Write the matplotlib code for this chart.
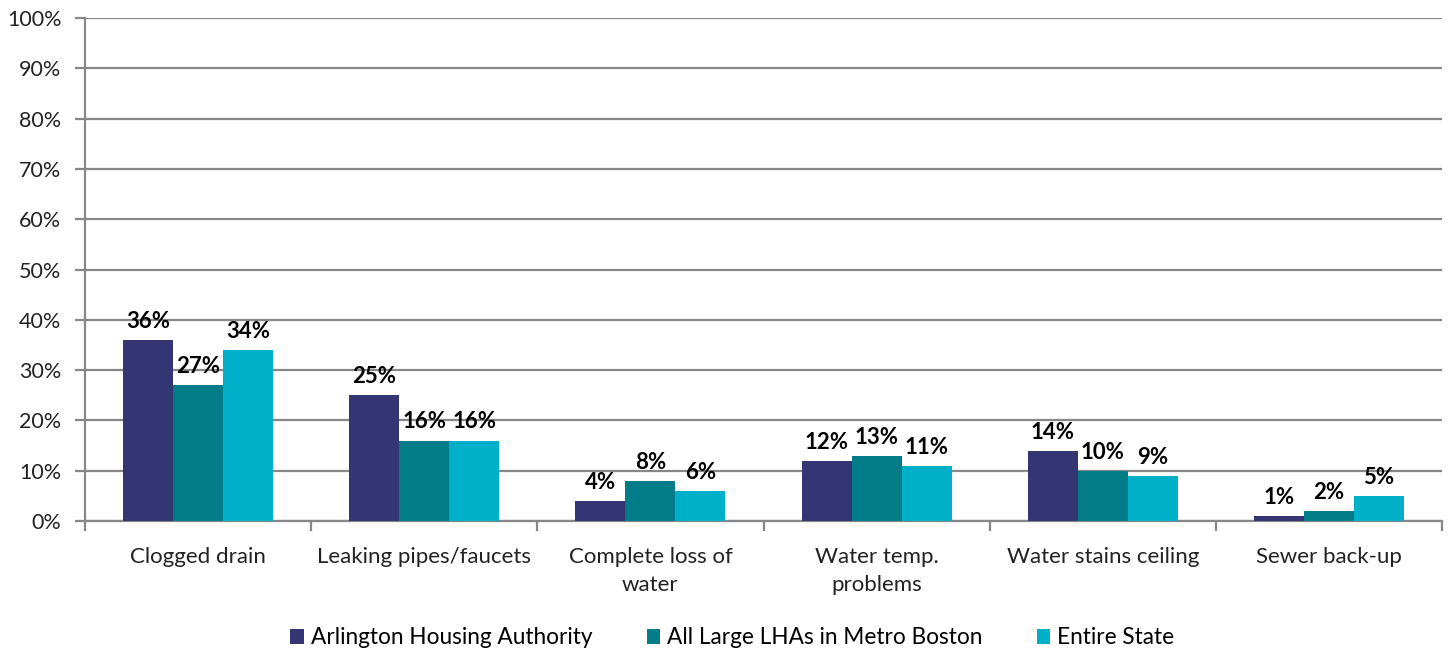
import numpy as np
import matplotlib.pyplot as plt
from matplotlib.patches import Patch

# data
categories = ['Clogged drain', 'Leaking pipes/faucets', 'Complete loss of\nwater',
              'Water temp.\nproblems', 'Water stains ceiling', 'Sewer back-up']
series_names = ['Arlington Housing Authority', 'All Large LHAs in Metro Boston', 'Entire State']
arlington = [36, 25, 4, 12, 14, 1]
metro_boston = [27, 16, 8, 13, 10, 2]
entire_state = [34, 16, 6, 11, 9, 5]
colors = ['#343673', '#037C89', '#00AFC8']

plt.rcParams['font.family'] = ['Lato', 'DejaVu Sans']

fig = plt.figure(figsize=(14.5, 6.49), dpi=100)
ax = fig.add_axes([85 / 1450, 1 - 521 / 649, (1442 - 85) / 1450, (521 - 18) / 649])

x = np.arange(len(categories))
bar_w = 0.221
for i, (vals, col) in enumerate(zip([arlington, metro_boston, entire_state], colors)):
    pos = x + (i - 1) * bar_w
    ax.bar(pos, vals, width=bar_w, color=col, zorder=3)
    for p, v in zip(pos, vals):
        ax.text(p, v + 1.6, f'{v}%', ha='center', va='bottom',
                fontsize=16, fontweight='bold', color='black', zorder=4)

ax.set_xlim(-0.5, len(categories) - 0.5)
ax.set_ylim(0, 100)
ax.set_yticks(np.arange(0, 101, 10))
ax.set_yticklabels([f'{t}%' for t in range(0, 101, 10)], fontsize=15.5, color='#222222')
ax.yaxis.grid(True, color='#878787', linewidth=1.6, zorder=0)

# category ticks sit between groups, labels at group centres
ax.set_xticks(np.arange(-0.5, len(categories), 1.0))
ax.set_xticklabels([])
ax.set_xticks(x, minor=True)
ax.set_xticklabels(categories, minor=True, fontsize=16, color='#222222', linespacing=1.45)
ax.tick_params(axis='x', which='major', length=7, width=1.6, color='#878787')
ax.tick_params(axis='x', which='minor', length=0, pad=19)
ax.tick_params(axis='y', length=7, width=1.6, color='#878787', pad=10)

for s in ['top', 'right']:
    ax.spines[s].set_visible(False)
ax.spines['left'].set_color('#878787')
ax.spines['bottom'].set_color('#878787')
ax.spines['left'].set_linewidth(1.6)
ax.spines['bottom'].set_linewidth(1.6)

handles = [Patch(facecolor=c) for c in colors]
fig.legend(handles, series_names, loc='center', bbox_to_anchor=(0.505, 1 - 638 / 649),
           ncol=3, frameon=False, fontsize=16.3, handlelength=0.6, handleheight=0.6,
           handletextpad=0.3, columnspacing=2.4)

fig.savefig('out.png', dpi=100)
